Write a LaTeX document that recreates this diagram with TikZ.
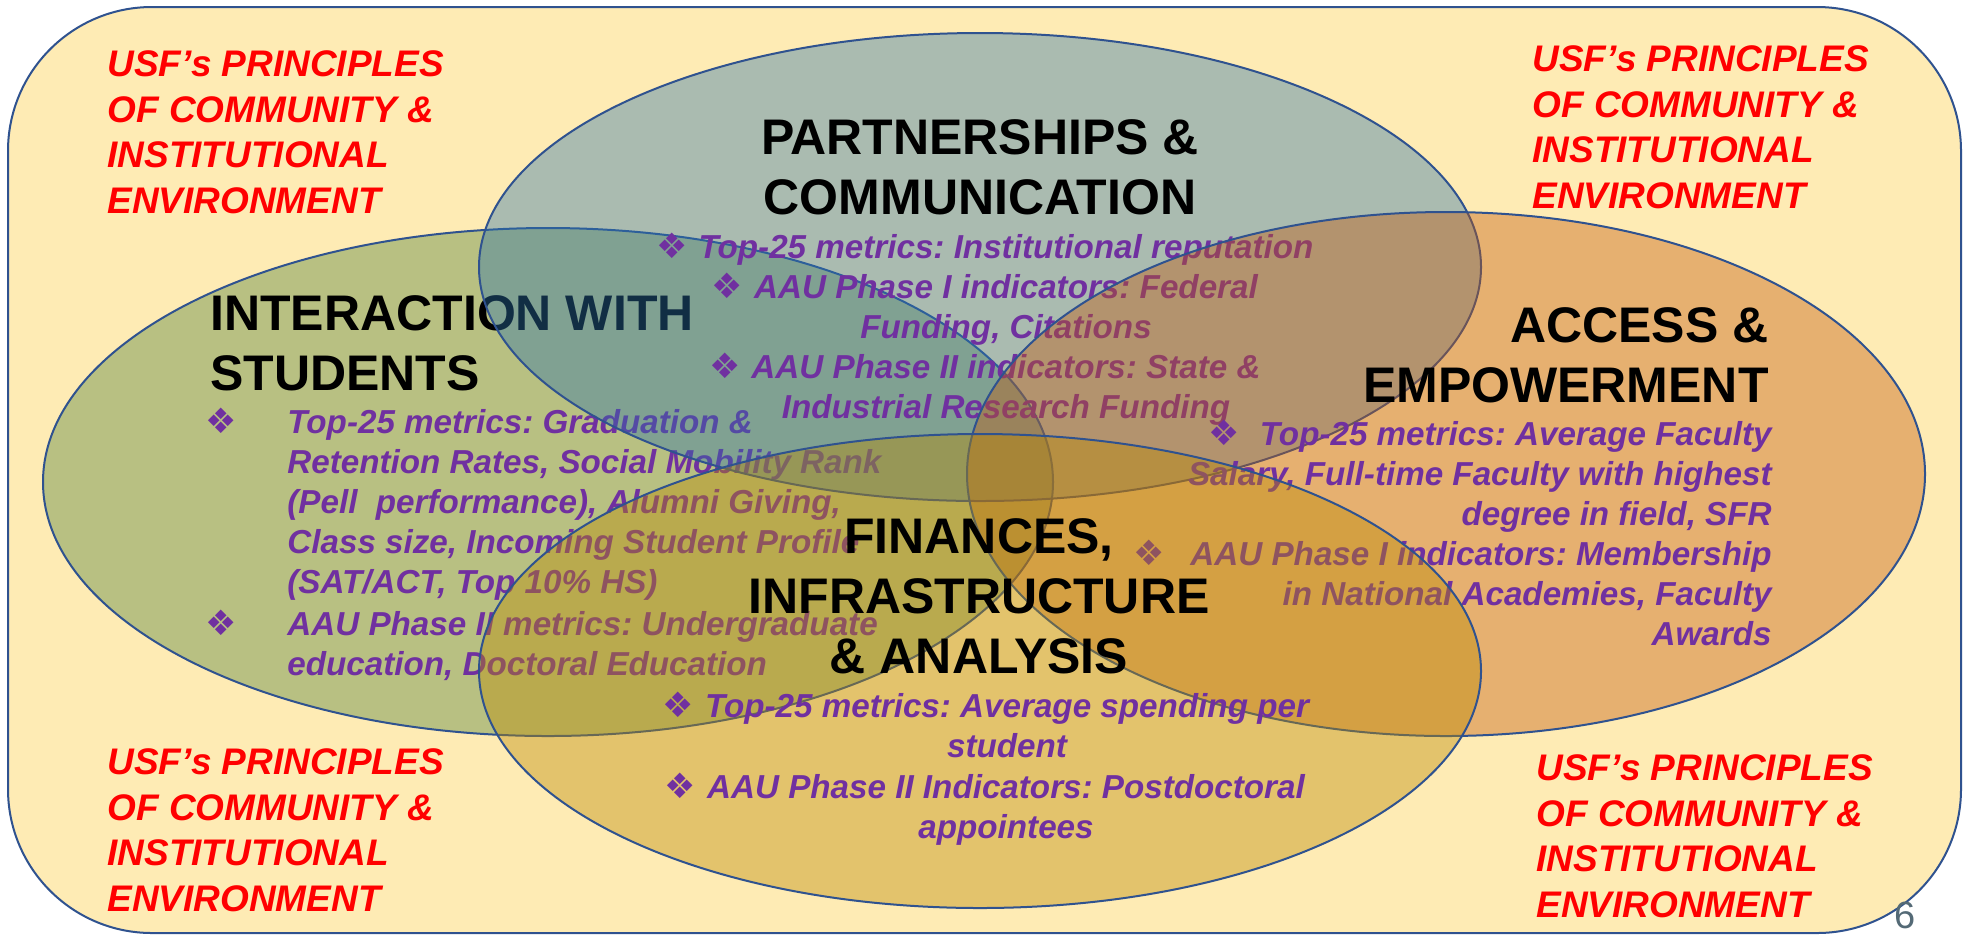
\documentclass[tikz,border=0pt]{standalone}
\usepackage{fontspec}
\setmainfont{Liberation Sans}
\newfontfamily\dingfont{DejaVu Sans}
\usetikzlibrary{positioning}

\definecolor{PaleGold}{RGB}{254,235,180}
\definecolor{RimBlue}{RGB}{47,82,143}
\definecolor{SetGreen}{RGB}{79,128,57}
\definecolor{SetBlue}{RGB}{44,115,172}
\definecolor{SetOrange}{RGB}{194,88,12}
\definecolor{SetGold}{RGB}{187,137,0}
\definecolor{MetricPurple}{RGB}{112,48,160}
\definecolor{SlideNo}{RGB}{84,106,118}

\begin{document}
\frenchspacing
\begin{tikzpicture}[x=0.5pt, y=-0.5pt,
      every node/.append style={inner sep=0pt},
      venn/.style={draw=RimBlue, line width=1pt, fill opacity=0.4},
      heading/.style={font=\fontsize{25}{30}\selectfont\bfseries, text=black},
      metric/.style={font=\fontsize{16.6}{20}\selectfont\bfseries\itshape, text=MetricPurple},
      bulletmark/.style={font=\dingfont\fontsize{17.5}{17.5}\selectfont, text=MetricPurple, anchor=base east}]
    \tikzstyle{principle} = [font=\fontsize{18.5}{22.75}\selectfont\bfseries\itshape,
      text=red, align=left, anchor=base west]
    \useasboundingbox (0,0) rectangle (1975,934);
    \fill[white] (0,0) rectangle (1975,934);
    \draw[RimBlue, line width=1pt, fill=PaleGold, rounded corners=72pt] (8,7) rectangle (1961,933);

    \draw[venn, fill=SetGreen] (548,482) ellipse [x radius=505, y radius=254];
    \node (STUDENTS) [heading, align=left, anchor=base west] at (210,390) {INTERACTION WITH\\STUDENTS};
    \node (graduation) [metric, align=left, anchor=base west] at (287,593)
      {Top-25 metrics: Graduation \&\\Retention Rates, Social Mobility Rank\\(Pell~ performance), Alumni Giving,\\Class size, Incoming Student Profile\\(SAT/ACT, Top 10\% HS)};
    \node (undergrad) [metric, align=left, anchor=base west] at (287,675)
      {AAU Phase II metrics: Undergraduate\\education, Doctoral Education};
    \node (graduation_dot) [bulletmark] at (237,433) {❖};
    \node (undergrad_dot) [bulletmark] at (237,635) {❖};

    \draw[venn, fill=SetBlue] (980,267) ellipse [x radius=501, y radius=234];
    \node (PARTNERS) [heading, align=center, anchor=base] at (980,214) {PARTNERSHIPS \&\\COMMUNICATION};
    \node (reputation) [metric, anchor=base] at (1006,258) {Top-25 metrics: Institutional reputation};
    \node (federal) [metric, align=center, anchor=base] at (1006,338) {AAU Phase I indicators: Federal\\Funding, Citations};
    \node (state) [metric, align=center, anchor=base] at (1006,418) {AAU Phase II indicators: State \&\\Industrial Research Funding};
    \node (reputation_dot) [bulletmark, left=5pt of reputation.base west, anchor=base east] {❖};
    \node (federal_dot) [bulletmark] at ([xshift=-5pt, yshift=20pt]federal.base west) {❖};
    \node (state_dot) [bulletmark] at ([xshift=-5pt, yshift=20pt]state.base west) {❖};

    \draw[venn, fill=SetOrange] (1446,474) ellipse [x radius=479, y radius=262];
    \node (ACCESS) [heading, align=right, anchor=base east] at (1769,402) {ACCESS \&\\EMPOWERMENT};
    \node (salary) [metric, align=right, anchor=base east] at (1772,525)
      {Top-25 metrics: Average Faculty\\Salary, Full-time Faculty with highest\\degree in field, SFR};
    \node (academies) [metric, align=right, anchor=base east] at (1772,645)
      {AAU Phase I indicators: Membership\\in National Academies, Faculty\\Awards};
    \node (salary_dot) [bulletmark] at (1240,445) {❖};
    \node (academies_dot) [bulletmark] at (1165,565) {❖};

    \draw[venn, fill=SetGold] (980,671) ellipse [x radius=501, y radius=237];
    \node (FINANCES) [heading, align=center, anchor=base] at (979,673) {FINANCES,\\INFRASTRUCTURE\\\& ANALYSIS};
    \node (spending) [metric, align=center, anchor=base] at (1007,757) {Top-25 metrics: Average spending per\\student};
    \node (postdoc) [metric, align=center, anchor=base] at (1006,838) {AAU Phase II Indicators: Postdoctoral\\appointees};
    \node (spending_dot) [bulletmark] at ([xshift=-5pt, yshift=20pt]spending.base west) {❖};
    \node (postdoc_dot) [bulletmark] at ([xshift=-5pt, yshift=20pt]postdoc.base west) {❖};

    \node (principles_nw) [principle] at (107,213) {USF’s PRINCIPLES\\OF COMMUNITY \&\\INSTITUTIONAL\\ENVIRONMENT};
    \node (principles_ne) [principle] at (1532,208) {USF’s PRINCIPLES\\OF COMMUNITY \&\\INSTITUTIONAL\\ENVIRONMENT};
    \node (principles_sw) [principle] at (107,911) {USF’s PRINCIPLES\\OF COMMUNITY \&\\INSTITUTIONAL\\ENVIRONMENT};
    \node (principles_se) [principle] at (1536,917) {USF’s PRINCIPLES\\OF COMMUNITY \&\\INSTITUTIONAL\\ENVIRONMENT};
    \node (slide_no) [font=\fontsize{19}{19}\selectfont, text=SlideNo, anchor=base east] at (1916,928) {6};
  \end{tikzpicture}
\end{document}
